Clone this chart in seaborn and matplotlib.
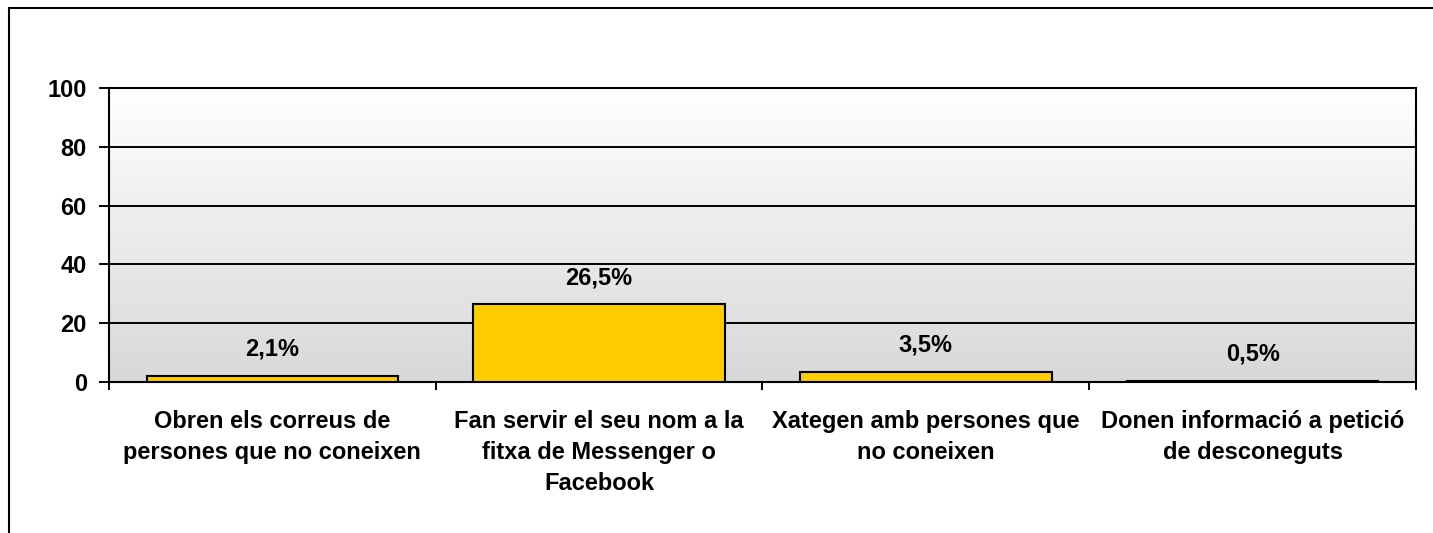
import numpy as np
import pandas as pd
import matplotlib
matplotlib.use("Agg")
import matplotlib.pyplot as plt
from matplotlib.lines import Line2D
import seaborn as sns

categories = [
    "Obren els correus de\npersones que no coneixen",
    "Fan servir el seu nom a la\nfitxa de Messenger o\nFacebook",
    "Xategen amb persones que\nno coneixen",
    "Donen informació a petició\nde desconeguts",
]
values = [2.1, 26.5, 3.5, 0.5]
y_ticks = [0, 20, 40, 60, 80, 100]

sns.set_style("white")
plt.rcParams["font.family"] = ["Liberation Sans", "DejaVu Sans"]
plt.rcParams["text.color"] = "black"
plt.rcParams["xtick.color"] = "black"
plt.rcParams["ytick.color"] = "black"

df = pd.DataFrame({"cat": categories, "val": values})

fig = plt.figure(figsize=(14.33, 5.33), dpi=100)
ax = fig.add_axes([0.0761, 0.2833, 0.9120, 0.5516])

# gradient plot area: grey at bottom, white at top
grad = np.linspace(0, 1, 256).reshape(-1, 1)
cmap = matplotlib.colors.LinearSegmentedColormap.from_list("g", ["#d8d8d8", "#ffffff"])
ax.imshow(grad, cmap=cmap, aspect="auto", extent=[-0.5, 3.5, 0, 100],
          zorder=0, origin="lower")

sns.barplot(data=df, x="cat", y="val", color="#ffcc00", edgecolor="black",
            linewidth=1.5, width=0.77, saturation=1, ax=ax, zorder=3)

ax.set_xlim(-0.5, 3.5)
ax.set_ylim(0, 100)
ax.set_yticks(y_ticks)
for t in y_ticks[1:]:
    ax.axhline(t, color="black", lw=1.4, zorder=2)

for i, v in enumerate(values):
    ax.annotate(f"{v:.1f}%".replace(".", ","), (i, v), xytext=(0, 19),
                textcoords="offset points", ha="center", va="center",
                fontsize=17, fontweight="bold", color="black", zorder=5)

ax.set_xticks(np.arange(len(categories)))
ax.set_xticklabels(categories, fontsize=17, fontweight="bold", linespacing=1.45)
ax.set_xticks(np.arange(-0.5, 4, 1), minor=True)
ax.tick_params(axis="x", which="major", length=0, pad=20)
ax.tick_params(axis="x", which="minor", length=6, width=1.4, direction="out",
               color="black", bottom=True)
ax.tick_params(axis="y", length=7, width=1.4, direction="out", color="black",
               left=True, pad=9, labelsize=17)
for lab in ax.get_yticklabels():
    lab.set_fontweight("bold")

for s in ax.spines.values():
    s.set_color("black")
    s.set_linewidth(1.5)
    s.set_visible(True)

ax.set_xlabel("")
ax.set_ylabel("")

# outer chart frame (only top and left edges visible)
fig.add_artist(Line2D([9 / 1433, 1.0], [1 - 8 / 533, 1 - 8 / 533],
                      transform=fig.transFigure, color="black", lw=1.5))
fig.add_artist(Line2D([9 / 1433, 9 / 1433], [0, 1 - 8 / 533],
                      transform=fig.transFigure, color="black", lw=1.5))

fig.savefig("out.png", dpi=100)
